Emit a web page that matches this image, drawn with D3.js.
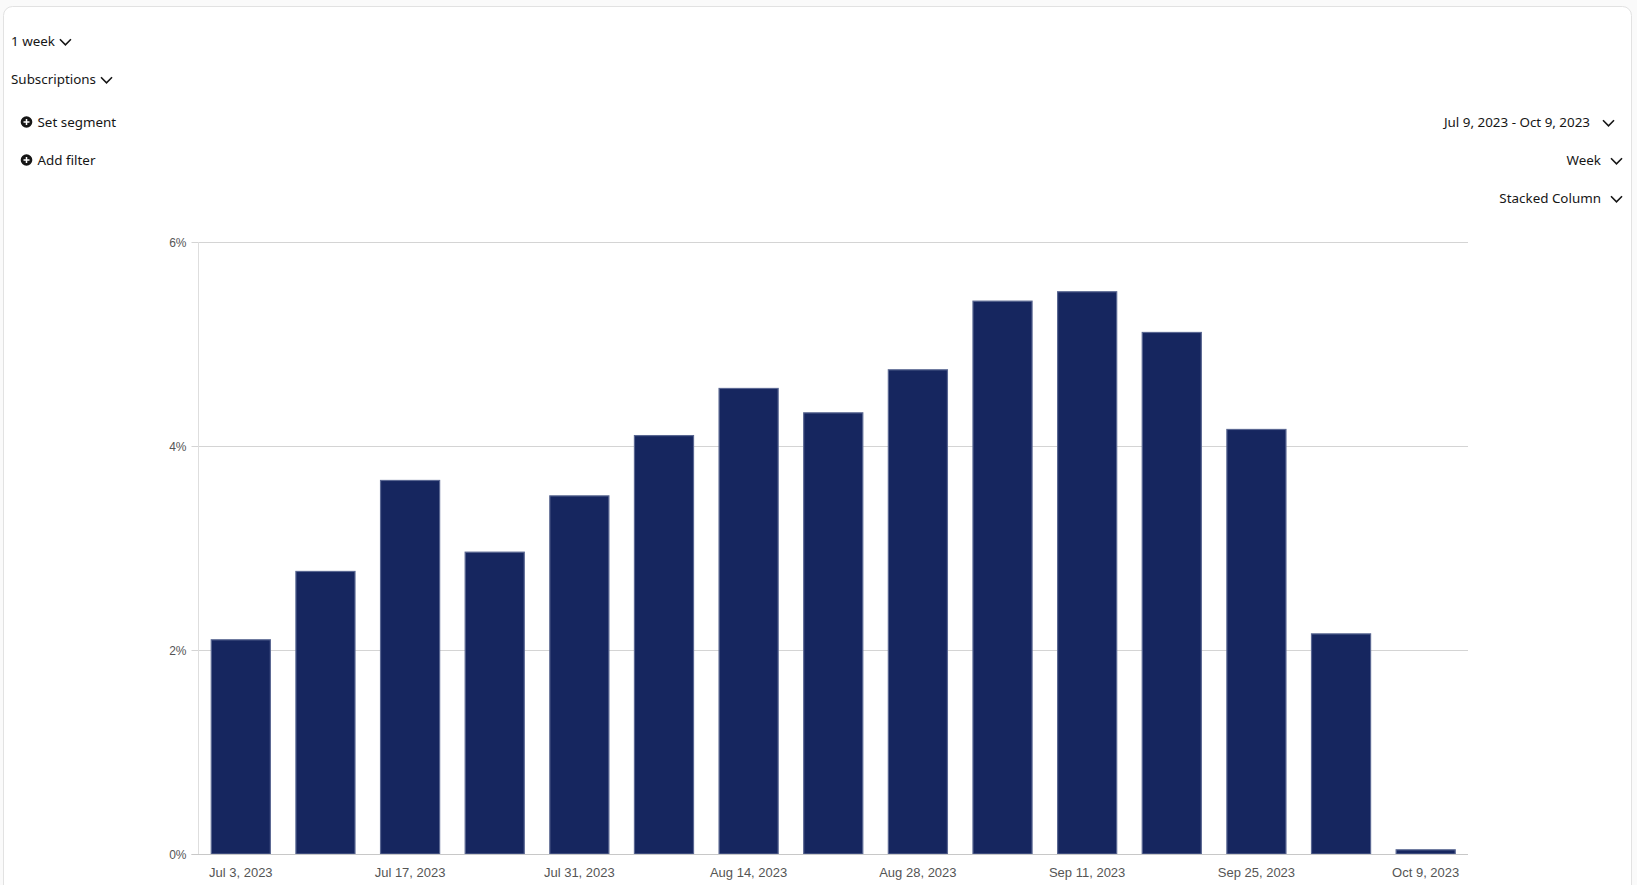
<!DOCTYPE html>
<html>
<head>
<meta charset="utf-8">
<script src="https://cdn.jsdelivr.net/npm/d3@7"></script>
<style>
  body { margin: 0; background: #fafafa; }
  #viz svg { display: block; }
  .ctl { font-family: "Noto Sans", sans-serif; font-size: 13.4px; fill: #161616; }
  .tick_y { font-family: "Liberation Sans", Arial, sans-serif; font-size: 12px; fill: #555; }
  .tick_x { font-family: "Liberation Sans", Arial, sans-serif; font-size: 13px; fill: #555; }
</style>
</head>
<body>
<div id="viz"></div>
<script>
// weekly buckets (start of week)
let weeks = ["Jul 3, 2023", "Jul 10, 2023", "Jul 17, 2023", "Jul 24, 2023", "Jul 31, 2023",
             "Aug 7, 2023", "Aug 14, 2023", "Aug 21, 2023", "Aug 28, 2023", "Sep 4, 2023",
             "Sep 11, 2023", "Sep 18, 2023", "Sep 25, 2023", "Oct 2, 2023", "Oct 9, 2023"];

// subscriptions, percent
let values = [2.105, 2.775, 3.667, 2.964, 3.516, 4.107, 4.569, 4.330, 4.752, 5.425,
              5.517, 5.118, 4.167, 2.163, 0.046];

let y_ticks = [0, 2, 4, 6];
let x_labels = ["Jul 3, 2023", "Jul 17, 2023", "Jul 31, 2023", "Aug 14, 2023",
                "Aug 28, 2023", "Sep 11, 2023", "Sep 25, 2023", "Oct 9, 2023"];

let left_controls = ["1 week", "Subscriptions"];
let filter_controls = ["Set segment", "Add filter"];
let right_controls = ["Jul 9, 2023 - Oct 9, 2023", "Week", "Stacked Column"];

let W = 1637, H = 885;
let plot = {left: 198.5, right: 1468, top: 242, bottom: 854};

let svg = d3.select("#viz").append("svg")
    .attr("width", W)
    .attr("height", H);

// card
svg.append("rect")
    .attr("x", 3.5).attr("y", 6.5)
    .attr("width", 1628).attr("height", H + 20)
    .attr("rx", 9).attr("ry", 9)
    .attr("fill", "#fff")
    .attr("stroke", "#e2e2e2");

function chevron(g, x, y){
    g.append("path")
        .attr("d", "M" + x + "," + (y - 2.8) + "L" + (x + 5.5) + "," + (y + 2.8) + "L" + (x + 11) + "," + (y - 2.8))
        .attr("fill", "none")
        .attr("stroke", "#161616")
        .attr("stroke-width", 1.6);
}

// left dropdowns
let ctl = svg.append("g");
left_controls.forEach(function(lbl, i){
    let cy = 41 + i * 38;
    let t = ctl.append("text")
        .attr("class", "ctl")
        .attr("x", 11)
        .attr("y", cy + 5)
        .text(lbl);
    let w = t.node().getComputedTextLength();
    chevron(ctl, 11 + w + 5, cy + 1);
});

// segment / filter buttons
filter_controls.forEach(function(lbl, i){
    let cy = 122 + i * 38;
    ctl.append("circle")
        .attr("cx", 26.5).attr("cy", cy)
        .attr("r", 5.8)
        .attr("fill", "#161616");
    ctl.append("path")
        .attr("d", "M" + 23.5 + "," + cy + "H" + 29.5 + "M" + 26.5 + "," + (cy - 3) + "V" + (cy + 3))
        .attr("stroke", "#fff")
        .attr("stroke-width", 1.5);
    ctl.append("text")
        .attr("class", "ctl")
        .attr("x", 37.5)
        .attr("y", cy + 5)
        .text(lbl);
});

// right dropdowns
right_controls.forEach(function(lbl, i){
    let cy = 122 + i * 38;
    let text_end = i === 0 ? 1590 : 1601;
    let chev_x = i === 0 ? 1603 : 1611;
    ctl.append("text")
        .attr("class", "ctl")
        .attr("x", text_end)
        .attr("y", cy + 5)
        .attr("text-anchor", "end")
        .text(lbl);
    chevron(ctl, chev_x, cy + 1);
});

// scales
let x_scale = d3.scaleBand()
    .domain(weeks)
    .range([plot.left, plot.right])
    .paddingInner(0.29)
    .paddingOuter(0.145);

let y_scale = d3.scaleLinear()
    .domain([0, 6])
    .range([plot.bottom, plot.top]);

// grid + y axis
let y_axis = svg.append("g")
    .attr("transform", "translate(" + plot.left + ",0)")
    .call(d3.axisLeft(y_scale)
        .tickValues(y_ticks)
        .tickSize(-(plot.right - plot.left))
        .tickFormat(function(d){ return d + "%"; }));
y_axis.select(".domain").remove();
y_axis.selectAll(".tick line")
    .attr("stroke", "#d4d4d4")
    .attr("x1", -7);
y_axis.selectAll(".tick text")
    .attr("class", "tick_y")
    .attr("x", -12)
    .attr("dy", "0.35em")
    .attr("fill", null);

svg.append("line")
    .attr("x1", plot.left).attr("x2", plot.left)
    .attr("y1", plot.top).attr("y2", plot.bottom)
    .attr("stroke", "#dedede");

// bars
svg.append("g")
    .selectAll("rect")
    .data(values)
    .enter()
    .append("rect")
    .attr("x", function(d, i){ return x_scale(weeks[i]) + 0.5; })
    .attr("y", function(d){ return y_scale(d) + 0.5; })
    .attr("width", x_scale.bandwidth() - 1)
    .attr("height", function(d){ return Math.max(0, y_scale(0) - y_scale(d) - 0.5); })
    .attr("fill", "#16265f")
    .attr("stroke", "#5a6792")
    .attr("stroke-width", 1.2);

// baseline
svg.append("line")
    .attr("x1", plot.left - 7).attr("x2", plot.right)
    .attr("y1", plot.bottom + 0.5).attr("y2", plot.bottom + 0.5)
    .attr("stroke", "#c8c8c8");

// x labels, every other week
svg.append("g")
    .selectAll("text")
    .data(x_labels)
    .enter()
    .append("text")
    .attr("class", "tick_x")
    .attr("x", function(d){ return x_scale(d) + x_scale.bandwidth() / 2; })
    .attr("y", 877)
    .attr("text-anchor", "middle")
    .text(function(d){ return d; });
</script>
</body>
</html>
